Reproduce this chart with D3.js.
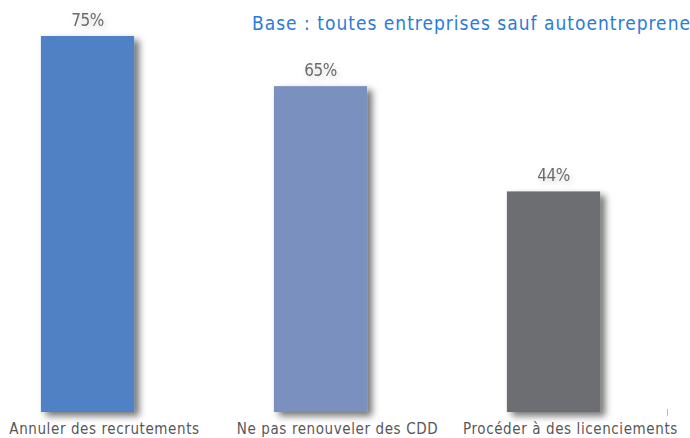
<!DOCTYPE html>
<html>
<head>
<meta charset="utf-8">
<script src="https://cdn.jsdelivr.net/npm/d3@7"></script>
<style>
  body { margin: 0; background: #fff; }
  svg { display: block; }
</style>
</head>
<body>
<svg id="chart" width="690" height="438"></svg>
<script>
const CATEGORIES = ["Annuler des recrutements", "Ne pas renouveler des CDD", "Procéder à des licenciements"];
const VALUES = [75, 65, 44];
const COLORS = ["#4f81c4", "#7a91bf", "#6d6e71"];
const NOTE = "Base : toutes entreprises sauf autoentrepreneurs";

const width = 690, height = 438;
const FONT = "'DejaVu Sans Condensed', 'DejaVu Sans', sans-serif";
const svg = d3.select("#chart");

// shadow filters
const defs = svg.append("defs");
const f = defs.append("filter").attr("id", "shadow")
  .attr("x", "-20%").attr("y", "-20%").attr("width", "150%").attr("height", "150%");
f.append("feDropShadow").attr("dx", 5).attr("dy", 4).attr("stdDeviation", 3.5)
  .attr("flood-color", "#000").attr("flood-opacity", 0.55);

const t = defs.append("filter").attr("id", "tshadow")
  .attr("x", "-30%").attr("y", "-40%").attr("width", "160%").attr("height", "180%");
t.append("feDropShadow").attr("dx", 2).attr("dy", 3).attr("stdDeviation", 3)
  .attr("flood-color", "#000").attr("flood-opacity", 0.18);

const x = d3.scaleBand()
  .domain(CATEGORIES)
  .range([-29, 670])
  .paddingInner(0.6)
  .paddingOuter(0.3);

const y = d3.scaleLinear()
  .domain([0, 75])
  .range([412, 36]);

const data = CATEGORIES.map((c, i) => ({ name: c, value: VALUES[i], color: COLORS[i] }));

svg.append("g")
  .selectAll("rect")
  .data(data)
  .join("rect")
  .attr("x", d => x(d.name))
  .attr("y", d => y(d.value))
  .attr("width", x.bandwidth())
  .attr("height", d => y(0) - y(d.value))
  .attr("fill", d => d.color)
  .attr("filter", "url(#shadow)");

svg.append("g")
  .selectAll("text")
  .data(data)
  .join("text")
  .attr("x", d => x(d.name) + x.bandwidth() / 2)
  .attr("y", d => y(d.value) - 10)
  .attr("text-anchor", "middle")
  .attr("font-family", FONT)
  .attr("font-size", 17)
  .attr("letter-spacing", -0.5)
  .attr("fill", "#6b6b6b")
  .attr("filter", "url(#tshadow)")
  .text(d => d.value + "%");

// category labels along the bottom, a bit right of the bar centres
svg.append("g")
  .selectAll("text")
  .data(data)
  .join("text")
  .attr("x", d => x(d.name) + x.bandwidth() / 2 + 17)
  .attr("y", 434)
  .attr("text-anchor", "middle")
  .attr("font-family", FONT)
  .attr("font-size", 15)
  .attr("letter-spacing", 0.6)
  .attr("fill", "#575757")
  .text(d => d.name);

svg.append("text")
  .attr("x", 252)
  .attr("y", 30)
  .attr("font-family", FONT)
  .attr("font-size", 19)
  .attr("letter-spacing", 1)
  .attr("fill", "#2b7bd9")
  .text(NOTE);

svg.append("line")
  .attr("x1", 667.5).attr("x2", 667.5)
  .attr("y1", 409).attr("y2", 416)
  .attr("stroke", "#bbb");
</script>
</body>
</html>
